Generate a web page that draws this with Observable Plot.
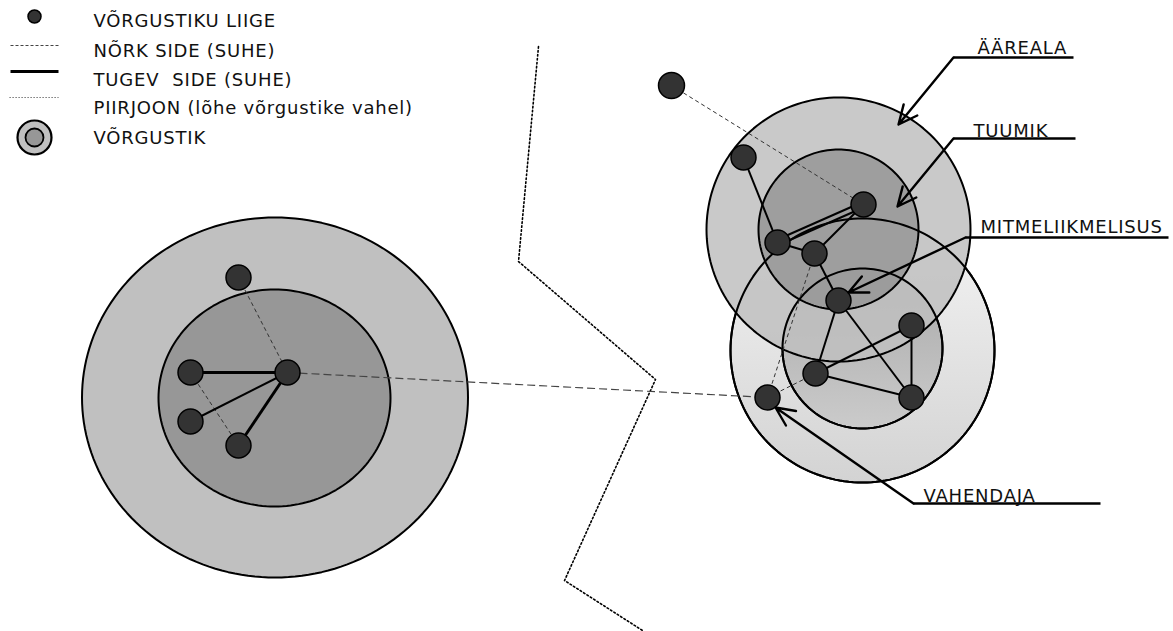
<!DOCTYPE html>
<html>
<head>
<meta charset="utf-8">
<script src="https://cdn.jsdelivr.net/npm/d3@7"></script>
<script src="https://cdn.jsdelivr.net/npm/@observablehq/plot@0.6"></script>
<style>
  html, body { margin: 0; padding: 0; background: #fff; }
  #chart { width: 1173px; height: 631px; }
</style>
</head>
<body>
<div id="chart"></div>
<script>
// ---------- DATA (diagram coordinates) ----------
// Network areas (ellipses): id, centre, radii
const areaIds = ["left-outer", "left-inner", "B-outer", "B-inner", "A-outer", "A-inner"];
const areaCx  = [274.5, 274, 862, 862, 838, 838];
const areaCy  = [397, 397.5, 350, 348, 229, 229];
const areaRx  = [193, 116, 132, 80, 132, 80];
const areaRy  = [180, 108.5, 132, 80, 132, 80];

// Network members
const nodeIds = ["L1", "L2", "L3", "L4", "L5", "R0", "R1", "R2", "R3", "R4", "R5", "R6", "R7", "R8", "R9"];
const nodeX   = [238, 190, 190, 287, 238, 671, 743, 863, 777, 814, 838, 911, 815, 911, 767];
const nodeY   = [277, 372, 421, 372, 445, 85, 157, 204, 242, 253, 300, 325, 373, 397, 397];

// Ties
const strongTiesLeft = [["L2", "L4"], ["L4", "L5"]];
const solidTies = [["L3", "L4"], ["R1", "R3"], ["R3", "R4"], ["R4", "R2"], ["R4", "R5"], ["R5", "R7"],
                   ["R5", "R8"], ["R7", "R6"], ["R6", "R8"], ["R7", "R8"]];
const multiplexTies = [["R3", "R2"]];
const weakTies = [["L1", "L4"], ["L2", "L5"], ["R0", "R2"], ["R4", "R9"], ["R7", "R9"]];
const bridgeTies = [["L4", "R9"]];

// Boundary (gap between networks)
const borderX = [538, 518, 655, 564, 642];
const borderY = [46, 261, 379, 580, 630];

// Callout labels
const calloutText   = ["ÄÄREALA", "TUUMIK", "MITMELIIKMELISUS", "VAHENDAJA"];
const calloutTextX  = [977, 973, 980, 923];
const calloutTextY  = [53, 136, 232, 501];
const calloutLineX1 = [953, 953, 965, 913];
const calloutLineX2 = [1073, 1075, 1168, 1100];
const calloutLineY  = [57, 138, 237, 503];
const calloutTipX   = [898, 897, 848, 775];
const calloutTipY   = [124, 206, 292, 407];

// Legend
const legendText = ["VÕRGUSTIKU LIIGE", "NÕRK SIDE (SUHE)", "TUGEV  SIDE (SUHE)", "PIIRJOON (lõhe võrgustike vahel)", "VÕRGUSTIK"];
const legendKind = ["member", "weak", "strong", "border", "network"];
const legendRowY = [26, 56, 85, 113, 143];
const legendSymbolY = [16, 45, 71, 97, 137];

// ---------- BUILD ----------
const FONT = "'DejaVu Sans', Verdana, sans-serif";
const nodeById = new Map(nodeIds.map((id, i) => [id, {id, x: nodeX[i], y: nodeY[i]}]));
const toLinks = (pairs) => pairs.map(([a, b]) => ({a: nodeById.get(a), b: nodeById.get(b)}));
const linkOpts = {x1: d => d.a.x, y1: d => d.a.y, x2: d => d.b.x, y2: d => d.b.y, stroke: "black"};

function areaOutline(i) {
  return d3.range(0, 360, 2).map(a => ({
    x: areaCx[i] + areaRx[i] * Math.cos(a * Math.PI / 180),
    y: areaCy[i] + areaRy[i] * Math.sin(a * Math.PI / 180)
  }));
}
const areaStyle = {
  "left-outer": {fill: "#c0c0c0", fillOpacity: 1},
  "left-inner": {fill: "#979797", fillOpacity: 1},
  "B-outer": {fill: "url(#gradBOuter)", fillOpacity: 1},
  "B-inner": {fill: "url(#gradBInner)", fillOpacity: 1},
  "A-outer": {fill: "#bfbfbf", fillOpacity: 0.85},
  "A-inner": {fill: "#979797", fillOpacity: 0.85}
};
const areaMarks = areaIds.map((id, i) => Plot.line(areaOutline(i), {
  x: "x", y: "y", curve: "linear-closed", stroke: "black", strokeWidth: 2, ...areaStyle[id]
}));
// B outlines re-drawn on top so they show through network A
const bOutlineMarks = areaIds.map((id, i) => id.startsWith("B") ? Plot.line(areaOutline(i), {
  x: "x", y: "y", curve: "linear-closed", stroke: "black", strokeWidth: 2, fill: "none"
}) : null).filter(Boolean);

const border = borderX.map((x, i) => ({x, y: borderY[i]}));
const callouts = calloutText.map((t, i) => ({
  t, tx: calloutTextX[i], ty: calloutTextY[i], lx1: calloutLineX1[i], lx2: calloutLineX2[i],
  ly: calloutLineY[i], ax: calloutTipX[i], ay: calloutTipY[i]
}));
const legend = legendText.map((t, i) => ({t, kind: legendKind[i], ty: legendRowY[i], sy: legendSymbolY[i]}));
const legendLine = (kind) => legend.filter(d => d.kind === kind);

const nodes = nodeIds.map(id => nodeById.get(id));

const chart = Plot.plot({
  width: 1173,
  height: 631,
  margin: 0,
  x: {domain: [0, 1173], range: [0, 1173], axis: null},
  y: {domain: [0, 631], range: [0, 631], axis: null},
  r: {type: "identity"},
  style: {fontFamily: FONT, background: "white", letterSpacing: "0.8px", color: "black"},
  marks: [
    ...areaMarks,
    ...bOutlineMarks,
    // boundary line
    Plot.line(border, {x: "x", y: "y", stroke: "black", strokeWidth: 1.6, strokeDasharray: "1.6,2.4"}),
    // ties
    Plot.link(toLinks(bridgeTies), {...linkOpts, stroke: "#444", strokeWidth: 1.2, strokeDasharray: "8,4"}),
    Plot.link(toLinks(weakTies), {...linkOpts, stroke: "#333", strokeWidth: 1, strokeDasharray: "4,3"}),
    Plot.link(toLinks(solidTies), {...linkOpts, strokeWidth: 2}),
    Plot.link(toLinks(strongTiesLeft), {...linkOpts, strokeWidth: 3}),
    Plot.link(toLinks(multiplexTies), {...linkOpts, strokeWidth: 2, dx: -1, dy: -2.5}),
    Plot.link(toLinks(multiplexTies), {...linkOpts, strokeWidth: 2, dx: 1, dy: 2.5}),
    // members
    Plot.dot(nodes, {x: "x", y: "y", r: d => d.id === "R0" ? 13 : 12.5, fill: "#333", stroke: "black", strokeWidth: 1.5}),
    // callouts
    Plot.link(callouts, {x1: "lx1", x2: "lx2", y1: "ly", y2: "ly", stroke: "black", strokeWidth: 2.4}),
    Plot.arrow(callouts, {x1: "lx1", y1: "ly", x2: "ax", y2: "ay", stroke: "black", strokeWidth: 2.4, headLength: 13, headAngle: 50}),
    Plot.text(callouts, {x: "tx", y: "ty", text: "t", textAnchor: "start", lineAnchor: "bottom", fontSize: 18, fill: "#111"}),
    // legend
    Plot.dot(legendLine("member"), {x: () => 34, y: "sy", r: 6.5, fill: "#333", stroke: "black", strokeWidth: 1.5}),
    Plot.link(legendLine("weak"), {x1: () => 10, x2: () => 58, y1: "sy", y2: "sy", stroke: "#444", strokeWidth: 1, strokeDasharray: "3,2"}),
    Plot.link(legendLine("strong"), {x1: () => 10, x2: () => 58, y1: "sy", y2: "sy", stroke: "black", strokeWidth: 3}),
    Plot.link(legendLine("border"), {x1: () => 9, x2: () => 58, y1: "sy", y2: "sy", stroke: "#555", strokeWidth: 1.2, strokeDasharray: "1.2,1.8"}),
    Plot.dot(legendLine("network"), {x: () => 34, y: "sy", r: 17, fill: "#c0c0c0", stroke: "black", strokeWidth: 2.2}),
    Plot.dot(legendLine("network"), {x: () => 34, y: "sy", r: 9, fill: "#979797", stroke: "black", strokeWidth: 1.8}),
    Plot.text(legend, {x: () => 93, y: "ty", text: "t", textAnchor: "start", lineAnchor: "bottom", fontSize: 18, fill: "#111"})
  ]
});

// gradient definitions for network B
const defs = d3.select(chart).insert("defs", ":first-child");
const gOuter = defs.append("linearGradient").attr("id", "gradBOuter").attr("x1", 0).attr("y1", 0).attr("x2", 0).attr("y2", 1);
gOuter.append("stop").attr("offset", "0%").attr("stop-color", "#f4f4f4");
gOuter.append("stop").attr("offset", "100%").attr("stop-color", "#d3d3d3");
const gInner = defs.append("linearGradient").attr("id", "gradBInner").attr("x1", 0).attr("y1", 0).attr("x2", 0).attr("y2", 1);
gInner.append("stop").attr("offset", "0%").attr("stop-color", "#a9a9a9");
gInner.append("stop").attr("offset", "100%").attr("stop-color", "#cbcbcb");

document.getElementById("chart").appendChild(chart);
</script>
</body>
</html>
